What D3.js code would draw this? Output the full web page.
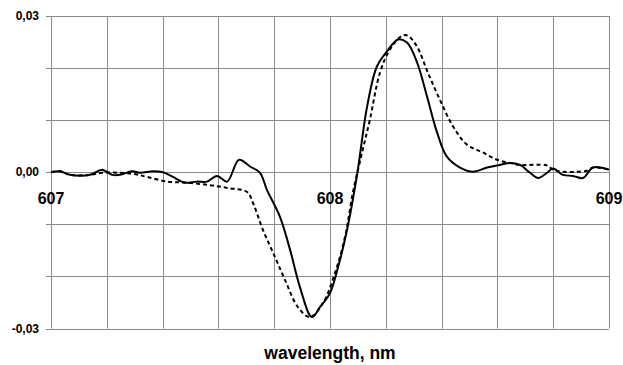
<!DOCTYPE html>
<html><head><meta charset="utf-8">
<script src="https://cdn.jsdelivr.net/npm/d3@7/dist/d3.min.js"></script>
<style>body{margin:0;background:#fff}svg{display:block}</style>
</head><body>
<svg id="c" width="623" height="365"></svg>
<script>
const solidX = [607.000,607.032,607.068,607.140,607.183,607.219,607.247,607.290,607.319,607.366,607.401,607.437,607.480,607.523,607.559,607.595,607.631,607.674,607.713,607.749,607.774,607.821,607.857,607.892,607.935,607.964,608.000,608.029,608.061,608.097,608.133,608.168,608.204,608.244,608.276,608.312,608.348,608.384,608.419,608.466,608.513,608.563,608.609,608.645,608.681,608.717,608.746,608.778,608.799,608.835,608.871,608.907,608.943,609.000];
const solidY = [0.0000,0.0002,-0.0005,-0.0005,0.0005,-0.0005,-0.0005,0.0002,-0.0001,0.0002,0.0000,-0.0009,-0.0020,-0.0018,-0.0018,-0.0007,-0.0018,0.0024,0.0011,-0.0001,-0.0034,-0.0086,-0.0149,-0.0220,-0.0278,-0.0259,-0.0232,-0.0182,-0.0111,-0.0005,0.0126,0.0203,0.0232,0.0255,0.0249,0.0211,0.0145,0.0076,0.0030,0.0009,0.0001,0.0009,0.0014,0.0018,0.0014,-0.0001,-0.0011,-0.0001,0.0007,-0.0005,-0.0007,-0.0011,0.0009,0.0005];
const dashX = [607.000,607.032,607.068,607.140,607.183,607.294,607.344,607.416,607.487,607.559,607.631,607.703,607.724,607.760,607.803,607.839,607.885,607.928,607.975,608.018,608.054,608.082,608.115,608.143,608.179,608.215,608.258,608.280,608.312,608.351,608.394,608.441,608.491,608.548,608.599,608.645,608.681,608.778,608.799,608.835,608.921,608.943,609.000];
const dashY = [0.0000,0.0002,-0.0005,-0.0005,-0.0001,-0.0003,-0.0009,-0.0018,-0.0020,-0.0024,-0.0030,-0.0038,-0.0059,-0.0111,-0.0163,-0.0207,-0.0259,-0.0278,-0.0251,-0.0193,-0.0124,-0.0039,0.0038,0.0101,0.0191,0.0236,0.0262,0.0262,0.0241,0.0191,0.0139,0.0088,0.0053,0.0038,0.0024,0.0018,0.0014,0.0013,0.0005,0.0001,0.0003,0.0009,0.0005];
const xTickLabels = ["607","608","609"];
const xTickValues = [607,608,609];
const yTickValues = [0.03,0.00,-0.03];
const yTickLabels = ["0,03","0,00","-0,03"];
const xGrid = d3.range(0,11).map(i=>607+i*0.2);
const yGrid = [-0.03,-0.02,-0.01,0,0.01,0.02,0.03];
const xTitle = "wavelength, nm";

const svg = d3.select("#c");
const L=51,R=609,T=16,B=328.5;
const x = d3.scaleLinear().domain([607,609]).range([L,R]);
const y = d3.scaleLinear().domain([-0.03,0.03]).range([B,T]);
const F = "'Liberation Sans', Arial, sans-serif";

const g = svg.append("g");
g.selectAll("line.v").data(xGrid).join("line")
  .attr("x1",d=>Math.round(x(d))+0.5).attr("x2",d=>Math.round(x(d))+0.5)
  .attr("y1",T).attr("y2",B).attr("stroke","#8a8a8a").attr("stroke-width",1);
g.selectAll("line.h").data(yGrid).join("line")
  .attr("y1",d=>Math.round(y(d))+0.5).attr("y2",d=>Math.round(y(d))+0.5)
  .attr("x1",L-5).attr("x2",R).attr("stroke","#8a8a8a").attr("stroke-width",1);

svg.selectAll("text.yl").data(yTickValues).join("text")
  .attr("x",39).attr("y",d=>y(d)+4).attr("text-anchor","end")
  .attr("font-family",F).attr("font-weight","bold").attr("font-size",12)
  .attr("fill","#000").text((d,i)=>yTickLabels[i]);

svg.selectAll("text.xl").data(xTickValues).join("text")
  .attr("x",d=>x(d)).attr("y",204).attr("text-anchor","middle")
  .attr("font-family",F).attr("font-weight","bold").attr("font-size",16)
  .attr("fill","#000").text((d,i)=>xTickLabels[i]);

svg.append("text").attr("x",330).attr("y",359).attr("text-anchor","middle")
  .attr("font-family",F).attr("font-weight","bold").attr("font-size",17.5)
  .attr("fill","#000").text(xTitle);

const line = d3.line().x(d=>x(d[0])).y(d=>y(d[1])).curve(d3.curveCatmullRom.alpha(0.5));
svg.append("path").attr("d",line(dashX.map((v,i)=>[v,dashY[i]])))
  .attr("fill","none").attr("stroke","#000").attr("stroke-width",2).attr("stroke-dasharray","4,3");
svg.append("path").attr("d",line(solidX.map((v,i)=>[v,solidY[i]])))
  .attr("fill","none").attr("stroke","#000").attr("stroke-width",2);
</script>
</body></html>
